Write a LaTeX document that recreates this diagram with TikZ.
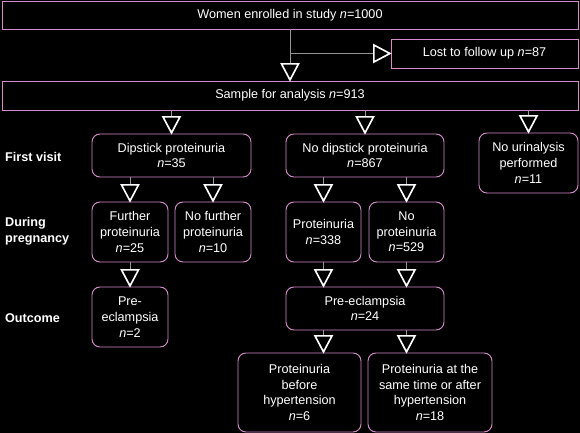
\documentclass[tikz,border=0pt]{standalone}
\usepackage{fontspec}
\setmainfont{Liberation Sans}
\usetikzlibrary{arrows.meta,positioning}

\definecolor{boxline}{RGB}{214,140,204}
\definecolor{flowline}{RGB}{150,150,150}

\begin{document}
\begin{tikzpicture}[
    x=0.03cm, y=-0.03cm,
    every node/.style={font=\fontsize{10.8}{13.4}\selectfont, text=white},
    plain/.style={rectangle, draw=boxline, fill=black, line width=0.8pt, align=center},
    stage/.style={rectangle, draw=boxline, fill=black, line width=0.8pt, rounded corners=2.4mm, align=center, inner sep=1pt},
    rowlabel/.style={anchor=west, align=left, font=\bfseries\fontsize{10.8}{13.4}\selectfont},
    flow/.style={draw=flowline, line width=0.8pt, shorten >=-1pt, -{Triangle[length=0.56cm, width=0.58cm, color=white, fill=black, line width=1.4pt]}}
]

\fill[black] (0,0) rectangle (580,433);

% top part
\node[plain, minimum width=17.28cm, minimum height=0.84cm] (enrol) at (290,15) {Women enrolled in study \emph{n}=1000};
\node[plain, minimum width=5.61cm, minimum height=0.87cm] (lost) at (484.5,53.5) {Lost to follow up \emph{n}=87};
\node[plain, minimum width=17.28cm, minimum height=0.87cm] (sample) at (290,95.5) {Sample for analysis \emph{n}=913};
\coordinate (split) at (290,53.5);

% first visit
\node[stage, minimum width=4.77cm, minimum height=1.29cm] (dip) at (171.5,155.5) {Dipstick proteinuria\\\emph{n}=35};
\node[stage, minimum width=4.74cm, minimum height=1.29cm] (nodip) at (365,155.5) {No dipstick proteinuria\\\emph{n}=867};
\node[stage, minimum width=2.97cm, minimum height=1.8cm] (nourin) at (528.5,163) {No urinalysis\\performed\\\emph{n}=11};

% during pregnancy
\node[stage, minimum width=2.28cm, minimum height=1.8cm] (further) at (130,232) {Further\\proteinuria\\\emph{n}=25};
\node[stage, minimum width=2.28cm, minimum height=1.8cm] (nofurther) at (213,232) {No further\\proteinuria\\\emph{n}=10};
\node[stage, minimum width=2.25cm, minimum height=1.8cm] (prot) at (323.5,232) {Proteinuria\\\emph{n}=338};
\node[stage, minimum width=2.25cm, minimum height=1.8cm] (noprot) at (406.5,232) {No\\proteinuria\\\emph{n}=529};

% outcome
\node[stage, minimum width=2.28cm, minimum height=1.8cm] (pre2) at (130,317) {Pre-\\eclampsia\\\emph{n}=2};
\node[stage, minimum width=4.74cm, minimum height=1.29cm] (pre24) at (365,308.5) {Pre-eclampsia\\\emph{n}=24};
\node[stage, minimum width=3.69cm, minimum height=2.37cm] (before) at (299.5,392.5) {Proteinuria\\before\\hypertension\\\emph{n}=6};
\node[stage, minimum width=3.72cm, minimum height=2.37cm] (after) at (430,392.5) {Proteinuria at the\\same time or after\\hypertension\\\emph{n}=18};

% row labels
\node[rowlabel] (visit) at (1,157) {First visit};
\node[rowlabel] (during) at (1,231) {During\\pregnancy};
\node[rowlabel] (outcome) at (1,318) {Outcome};

\draw[flow] (enrol) -- (sample);
\draw[flow] (split) -- (lost);
\draw[flow] (sample.south -| dip) -- (dip);
\draw[flow] (sample.south -| nodip) -- (nodip);
\draw[flow] (sample.south -| nourin) -- (nourin);
\draw[flow] (dip.south -| further) -- (further);
\draw[flow] (dip.south -| nofurther) -- (nofurther);
\draw[flow] (nodip.south -| prot) -- (prot);
\draw[flow] (nodip.south -| noprot) -- (noprot);
\draw[flow] (further) -- (pre2);
\draw[flow] (prot) -- (prot |- pre24.north);
\draw[flow] (noprot) -- (noprot |- pre24.north);
\draw[flow] (pre24.south -| prot) -- (before.north -| prot);
\draw[flow] (pre24.south -| noprot) -- (after.north -| noprot);

\end{tikzpicture}
\end{document}
